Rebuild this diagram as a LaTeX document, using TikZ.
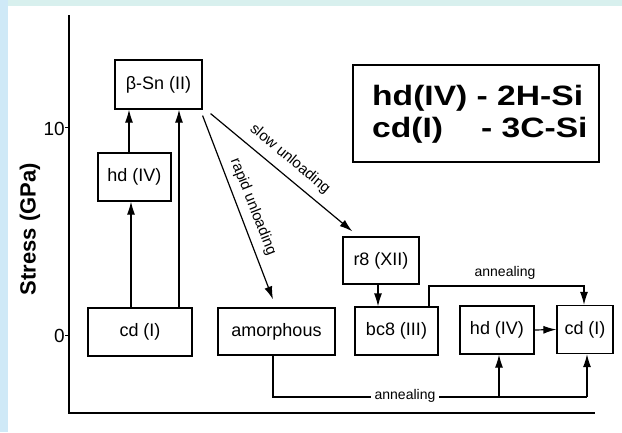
\documentclass[tikz,border=0pt]{standalone}
\usepackage{fontspec}
\usepackage{graphicx}
\setmainfont{Liberation Sans}
\usetikzlibrary{arrows.meta,calc}
\definecolor{leftband}{RGB}{207,233,247}
\definecolor{topband}{RGB}{216,240,238}
\newcommand{\widetext}[1]{\scalebox{1.2}[1]{#1}}
\tikzset{
  box/.style={draw, line width=1.2pt, inner sep=0pt, font=\fontsize{18}{20}\selectfont},
  arr/.style={line width=1.2pt, -{Latex[length=13pt,width=8pt]}},
  ln/.style={line width=1.2pt},
  lbl/.style={font=\fontsize{14}{16}\selectfont, inner sep=1pt},
  diag/.style={font=\fontsize{15}{17}\selectfont, inner sep=1pt},
  legtxt/.style={font=\fontsize{28}{30}\bfseries\selectfont, inner sep=0pt},
}
\begin{document}
\begin{tikzpicture}[x=1pt,y=-1pt]
\fill[leftband] (0,0) rectangle (622,432);
\fill[topband] (8,0) rectangle (622,6);
\fill[white] (8,6) rectangle (622,432);
\useasboundingbox (0,0) rectangle (622,432);

% axes
\draw[ln] (69,15) -- (69,413) -- (595,413);
\draw[line width=0.8pt] (65,127) -- (69,127);
\draw[line width=0.8pt] (65,335) -- (69,335);
\node[anchor=east, font=\fontsize{19}{21}\selectfont, inner sep=0pt] (t10) at (65,129) {10};
\node[anchor=east, font=\fontsize{19}{21}\selectfont, inner sep=0pt] (t0) at (65,336) {0};
\node[rotate=90, font=\fontsize{22}{24}\bfseries\selectfont] (ylab) at (30,229) {Stress (GPa)};

% boxes
\node[box, minimum width=87pt, minimum height=49pt] (bsn) at (158.5,84.5) {β-Sn (II)};
\node[box, minimum width=73pt, minimum height=48pt] (hd1) at (134.5,177) {hd (IV)};
\node[box, minimum width=104pt, minimum height=48pt] (cd1) at (140,332) {cd (I)};
\node[box, minimum width=117pt, minimum height=47pt] (amor) at (276.5,331.5) {amorphous};
\node[box, minimum width=76pt, minimum height=47pt] (r8) at (381,260.5) {r8 (XII)};
\node[box, minimum width=83pt, minimum height=48pt] (bc8) at (396.5,331) {bc8 (III)};
\node[box, minimum width=74pt, minimum height=48pt] (hd2) at (497,330) {hd (IV)};
\node[box, minimum width=56pt, minimum height=48pt] (cd2) at (585,329.5) {cd (I)};

% legend
\node[draw, line width=2pt, minimum width=246pt, minimum height=97pt] (leg) at (476,113.5) {};
\node[legtxt, anchor=base west] (l1) at (372,105) {\widetext{hd(IV) - 2H-Si}};
\node[legtxt, anchor=base west] (l2a) at (372,137) {\widetext{cd(I)}};
\node[legtxt, anchor=base west] (l2b) at (481,137) {\widetext{- 3C-Si}};

% x positions for connectors
\coordinate (xa) at (131,0);
\coordinate (xb) at (129,0);
\coordinate (xc) at (179,0);
\coordinate (xr) at (378,0);
\coordinate (xu) at (429,0);
\coordinate (xd) at (584,0);
\coordinate (xl) at (273,0);
\coordinate (xh) at (499,0);
\coordinate (xk) at (587,0);
\coordinate (yu) at (0,286);
\coordinate (yl) at (0,397);

% loading arrows
\draw[arr] (cd1.north -| xa) -- (hd1.south -| xa);
\draw[arr] (hd1.north -| xb) -- (bsn.south -| xb);
\draw[arr] (cd1.north -| xc) -- (bsn.south -| xc);

% unloading
\draw[arr] ($(bsn.south east)+(0,6)$) -- ($(amor.north)+(-3.5,-8)$);
\draw[arr] ($(bsn.south east)+(8,4)$) -- ($(r8.north west)+(10,-5)$);
\node[diag, rotate=-68.5] (rapid) at (253,207) {rapid unloading};
\node[diag, rotate=-40] (slow) at (290,159) {slow unloading};

% r8 -> bc8
\draw[arr] (r8.south -| xr) -- (bc8.north -| xr);

% upper annealing
\draw[arr] (bc8.north -| xu) |- (yu -| xd) -- (cd2.north -| xd);
\node[lbl] (ann1) at (505,273) {annealing};

% hd -> cd
\draw[arr] (hd2.east) -- (cd2.west);

% lower annealing
\draw[ln] (amor.south -| xl) |- (yl -| xk);
\draw[arr] (yl -| xk) -- (cd2.south -| xk);
\draw[arr] (yl -| xh) -- (hd2.south -| xh);
\node[lbl, fill=white, inner xsep=4pt] (ann2) at (405,396) {annealing};
\end{tikzpicture}
\end{document}
